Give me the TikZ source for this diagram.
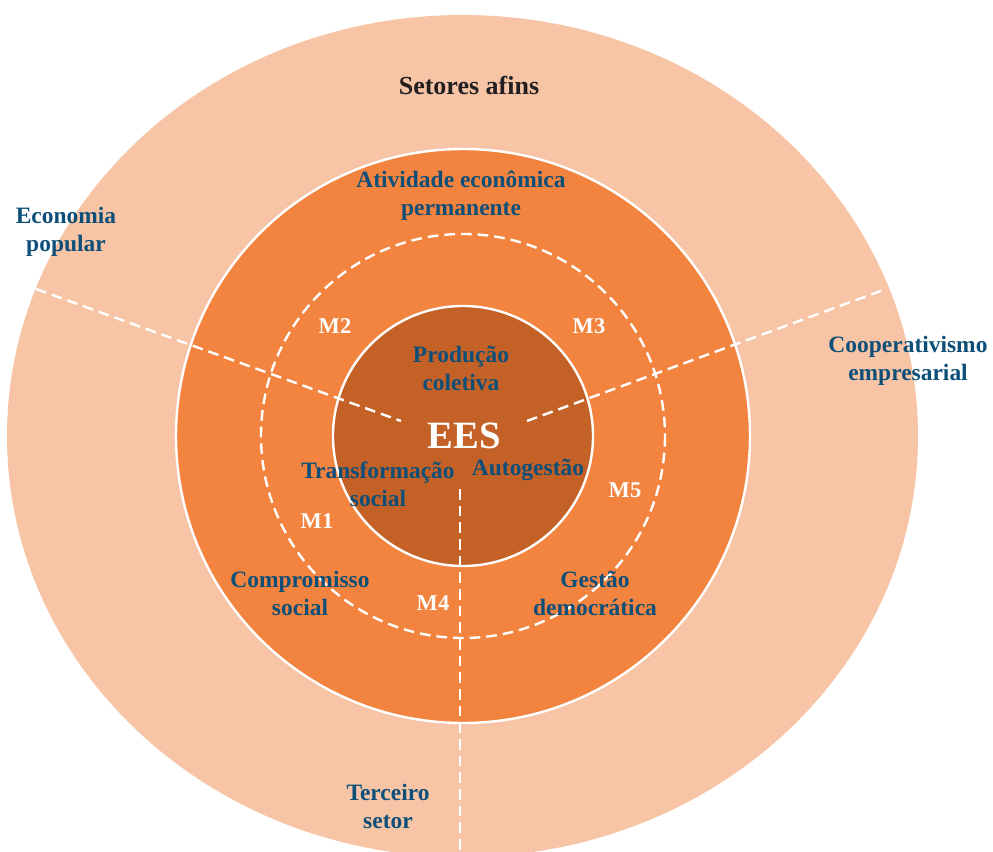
\documentclass[tikz,border=0pt]{standalone}
\usepackage{fontspec}
\setmainfont{Liberation Serif}
\definecolor{ringout}{HTML}{F7C5A6}
\definecolor{ringmid}{HTML}{F2843F}
\definecolor{core}{HTML}{C46126}
\definecolor{labelblue}{HTML}{0D4F78}
\definecolor{titledark}{HTML}{231F20}
\tikzset{
  lbl/.style={font=\fontsize{17.6}{21}\selectfont\bfseries, text=labelblue, align=center, inner sep=0pt},
  mlbl/.style={font=\fontsize{16.9}{20}\selectfont\bfseries, text=white, inner sep=0pt},
  divider/.style={draw=white, line width=1.8pt, dash pattern=on 8pt off 4.5pt},
}
\begin{document}
\begin{tikzpicture}[x=0.75pt, y=-0.75pt]
\useasboundingbox (0,0) rectangle (993,852);
\clip (0,0) rectangle (993,852);
% outer band: related sectors
\fill[ringout] (462.5,436) ellipse [x radius=455.5, y radius=421];
% middle ring
\fill[ringmid, draw=white, line width=1.8pt] (463,436) circle [radius=287];
% dashed ring of the M labels
\draw[divider] (463,436) circle [radius=202];
% core circle
\fill[core, draw=white, line width=1.8pt] (463,436) circle [radius=130];
% sector dividers
\coordinate (lo) at (36,289);
\coordinate (li) at (401,421);
\coordinate (ri) at (527,421);
\coordinate (ro) at (886,289);
\coordinate (bi) at (460,489);
\coordinate (bo) at (460,860);
\draw[divider] (lo) -- (li);
\draw[divider] (ri) -- (ro);
\draw[divider] (bi) -- (bo);
% labels
\node[lbl, text=titledark, font=\fontsize{19.5}{22}\selectfont\bfseries] (setores) at (469,85) {Setores afins};
\node[lbl] (atividade) at (461,196) {Atividade econômica\\permanente};
\node[lbl] (economia) at (66,232) {Economia\\popular};
\node[lbl] (coop) at (908,361) {Cooperativismo\\empresarial};
\node[lbl] (producao) at (461,368) {Produção\\coletiva};
\node[lbl] (transf) at (378,484) {Transformação\\social};
\node[lbl] (autog) at (528,470) {Autogestão};
\node[lbl] (comp) at (300,593) {Compromisso\\social};
\node[lbl] (gestao) at (595,593) {Gestão\\democrática};
\node[lbl] (terceiro) at (388,806) {Terceiro\\setor};
\node[font=\fontsize{29}{34}\selectfont\bfseries, text=white, inner sep=0pt] (ees) at (464,436) {EES};
\node[mlbl] (m1) at (317,521) {M1};
\node[mlbl] (m2) at (335,326) {M2};
\node[mlbl] (m3) at (589,326) {M3};
\node[mlbl] (m4) at (433,603) {M4};
\node[mlbl] (m5) at (625,490) {M5};
\end{tikzpicture}
\end{document}
